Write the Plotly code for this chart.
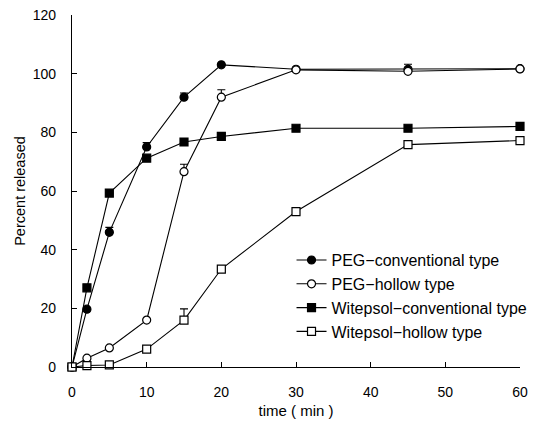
import plotly.graph_objects as go

time = [0, 2, 5, 10, 15, 20, 30, 45, 60]
peg_conv = [0, 19.7, 45.9, 75, 92, 103, 101.5, 101.5, 101.7]
peg_conv_err = [0, 0, 1.7, 1.5, 1.4, 0, 0, 1.7, 0]
peg_hollow = [0, 3, 6.5, 16, 66.6, 92, 101.3, 100.8, 101.6]
peg_hollow_err = [0, 0, 0, 0, 2.5, 2.5, 0, 0, 0]
wit_conv = [0, 27, 59.3, 71.2, 76.7, 78.6, 81.4, 81.4, 82]
wit_conv_err = [0, 0, 0, 0, 0, 0, 0, 0, 0]
wit_hollow = [0, 0.5, 0.7, 6.1, 16, 33.4, 53, 75.8, 77.2]
wit_hollow_err = [0, 0, 0, 0, 3.8, 0, 0, 0, 0]

series = [
    ("PEG\u2212conventional type", peg_conv, peg_conv_err, "circle", "black"),
    ("PEG\u2212hollow type", peg_hollow, peg_hollow_err, "circle", "white"),
    ("Witepsol\u2212conventional type", wit_conv, wit_conv_err, "square", "black"),
    ("Witepsol\u2212hollow type", wit_hollow, wit_hollow_err, "square", "white"),
]

fig = go.Figure()
for name, vals, err, sym, fill in series:
    fig.add_trace(go.Scatter(
        x=time, y=vals, name=name, mode="lines+markers",
        line=dict(color="black", width=1.1),
        marker=dict(symbol=sym, size=8, color=fill,
                    line=dict(color="black", width=1.2)),
        error_y=dict(type="data", array=err, arrayminus=[0]*len(err), symmetric=False,
                     color="black", thickness=1.1, width=4),
        cliponaxis=False,
    ))

fig.update_layout(
    width=533, height=426,
    margin=dict(l=72, r=13, t=15, b=59, autoexpand=False),
    paper_bgcolor="white", plot_bgcolor="white",
    font=dict(family="Liberation Sans, Arial, sans-serif", size=14, color="black"),
    showlegend=True,
    legend=dict(x=0.49, y=0.352, xanchor="left", yanchor="top",
                bgcolor="rgba(0,0,0,0)", font=dict(size=16),
                tracegroupgap=0, itemwidth=30),
    xaxis=dict(range=[0, 60], tickvals=[0, 10, 20, 30, 40, 50, 60],
               ticks="inside", ticklen=5, tickwidth=1, tickcolor="black",
               showline=True, linecolor="black", linewidth=1.2,
               showgrid=False, zeroline=False, automargin=False,
               ticklabelstandoff=12,
               title=dict(text="time ( min )", standoff=6, font=dict(size=15))),
    yaxis=dict(range=[0, 120], tickvals=[0, 20, 40, 60, 80, 100, 120],
               ticks="inside", ticklen=5, tickwidth=1, tickcolor="black",
               showline=True, linecolor="black", linewidth=1.2,
               showgrid=False, zeroline=False, automargin=False,
               ticklabelstandoff=12,
               title=dict(text="Percent released", standoff=3, font=dict(size=14.5))),
)

fig.write_html("out.html", config={"displayModeBar": False},
               post_script="document.body.style.margin='0';document.body.style.overflow='hidden';")
